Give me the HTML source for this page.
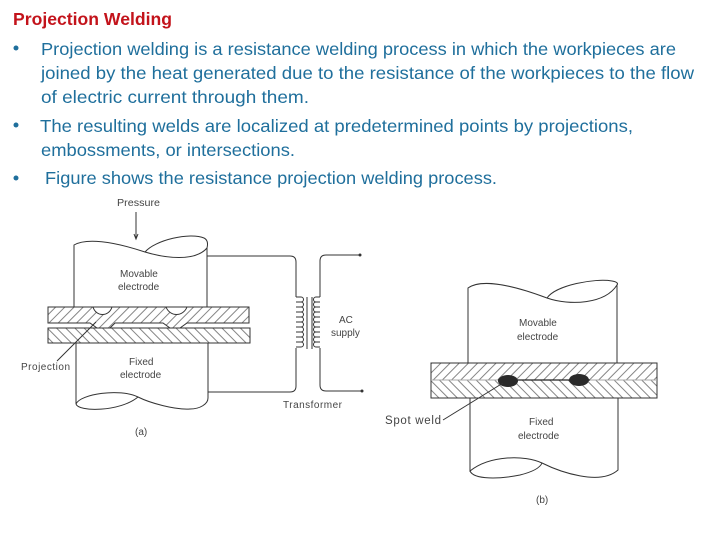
<!DOCTYPE html>
<html><head><meta charset="utf-8"><style>
html,body{margin:0;padding:0;background:#fff}
svg{display:block}
.t{font-family:"Liberation Sans",sans-serif;font-size:17.5px;fill:#1f6f9c}
.l{font-family:"Liberation Sans",sans-serif;font-size:10px;fill:#444}
.s{fill:none;stroke:#333;stroke-width:1}
.w{fill:#fff;stroke:#333;stroke-width:1}
</style></head><body>
<svg width="720" height="540" viewBox="0 0 720 540" xmlns="http://www.w3.org/2000/svg">
<defs>
<pattern id="h1" width="6.5" height="6.5" patternUnits="userSpaceOnUse" patternTransform="rotate(45)"><rect width="6.500" height="6.500" fill="#fff"/><line x1="3" y1="0" x2="3" y2="6.500" stroke="#666" stroke-width="0.800"/></pattern>
<pattern id="h2" width="6.5" height="6.5" patternUnits="userSpaceOnUse" patternTransform="rotate(-45)"><rect width="6.500" height="6.500" fill="#fff"/><line x1="3" y1="0" x2="3" y2="6.500" stroke="#666" stroke-width="0.800"/></pattern>
</defs>
<rect width="720" height="540" fill="#fff"/>

<text x="13" y="25" font-family="Liberation Sans,sans-serif" font-size="17.5" font-weight="700" fill="#c3131b" textLength="159" lengthAdjust="spacingAndGlyphs">Projection Welding</text>
<circle cx="16" cy="48" r="2.500" fill="#1f6f9c"/>
<circle cx="16" cy="125" r="2.500" fill="#1f6f9c"/>
<circle cx="16" cy="178" r="2.500" fill="#1f6f9c"/>
<text class="t" x="41" y="55" textLength="635" lengthAdjust="spacingAndGlyphs">Projection welding is a resistance welding process in which the workpieces are</text>
<text class="t" x="41" y="79" textLength="653" lengthAdjust="spacingAndGlyphs">joined by the heat generated due to the resistance of the workpieces to the flow</text>
<text class="t" x="41" y="103" textLength="268" lengthAdjust="spacingAndGlyphs">of electric current through them.</text>
<text class="t" x="40" y="132" textLength="593" lengthAdjust="spacingAndGlyphs">The resulting welds are localized at predetermined points by projections,</text>
<text class="t" x="41" y="156" textLength="254" lengthAdjust="spacingAndGlyphs">embossments, or intersections.</text>
<text class="t" x="45" y="184" textLength="452" lengthAdjust="spacingAndGlyphs">Figure shows the resistance projection welding process.</text>

<!-- Figure a -->
<g>
<text class="l" x="117" y="206" textLength="43" lengthAdjust="spacingAndGlyphs">Pressure</text>
<path class="s" d="M136 212V238M134 234L136 239L138 234"/>
<path class="w" d="M74 307V245C86 238 112 241 145 252C165 258 195 262 207 248V307Z"/>
<path class="s" d="M145 252C155 240 190 232 204 238C208 240 208 244 207 248"/>
<path class="w" d="M76 343V404C80 394 120 388 138 397C150 403 175 410 190 409C200 409 208 404 208 398V343Z"/>
<path class="s" d="M76 404C78 412 120 412 138 397"/>
<path class="s" d="M207 256H290Q296 256 296 262V297M208 392H290Q296 392 296 386V348"/>
<path class="s" d="M360 255H326Q320 255 320 261V297M362 391H326Q320 391 320 385V348"/>
<circle cx="360" cy="255" r="1.500" fill="#333"/><circle cx="362" cy="391" r="1.500" fill="#333"/>
<path class="s" d="M296 297h5a2.500 2.500 0 0 1 0 5a2.500 2.500 0 0 1 0 5a2.500 2.500 0 0 1 0 5a2.500 2.500 0 0 1 0 5a2.500 2.500 0 0 1 0 5a2.500 2.500 0 0 1 0 5a2.500 2.500 0 0 1 0 5a2.500 2.500 0 0 1 0 5a2.500 2.500 0 0 1 0 5a2.500 2.500 0 0 1 0 5h-5"/>
<path class="s" d="M296 302h5M296 307h5M296 312h5M296 317h5M296 322h5M296 327h5M296 332h5M296 337h5M296 342h5"/>
<path class="s" d="M320 297h-4a2.500 2.500 0 0 0 0 5a2.500 2.500 0 0 0 0 5a2.500 2.500 0 0 0 0 5a2.500 2.500 0 0 0 0 5a2.500 2.500 0 0 0 0 5a2.500 2.500 0 0 0 0 5a2.500 2.500 0 0 0 0 5a2.500 2.500 0 0 0 0 5a2.500 2.500 0 0 0 0 5a2.500 2.500 0 0 0 0 5h4"/>
<path class="s" d="M320 302h-4M320 307h-4M320 312h-4M320 317h-4M320 322h-4M320 327h-4M320 332h-4M320 337h-4M320 342h-4"/>
<path class="s" d="M307 297V349M312 297V349"/>
<rect x="74" y="323" width="134" height="5" fill="#fff"/>
<path d="M48 307H93C96 317 109 317 112 307H166C170 317 183 317 187 307H249V323H187L180 328H170L163 323H115L110 328H97L90 323H48Z" fill="url(#h1)" stroke="#333" stroke-width="1"/>
<rect x="48" y="328" width="202" height="15" fill="url(#h2)" stroke="#333" stroke-width="1"/>
<path class="s" d="M57 361L96 322"/>
<text class="l" x="120" y="277">Movable</text>
<text class="l" x="118" y="290">electrode</text>
<text class="l" x="129" y="365">Fixed</text>
<text class="l" x="120" y="378">electrode</text>
<text class="l" x="21" y="370" textLength="49" lengthAdjust="spacing">Projection</text>
<text class="l" x="339" y="323">AC</text>
<text class="l" x="331" y="336">supply</text>
<text class="l" x="283" y="408" textLength="59" lengthAdjust="spacing">Transformer</text>
<text class="l" x="135" y="435">(a)</text>
</g>

<!-- Figure b -->
<g>
<path class="w" d="M468 363V288C482 278 515 286 547 298C570 306 605 304 617 285V363Z"/>
<path class="s" d="M547 298C556 285 595 278 612 281C618 282 618 284 617 285"/>
<path class="w" d="M470 398V471C490 455 525 455 542 463C560 472 600 486 618 470V398Z"/>
<path class="s" d="M470 471C474 480 500 479 520 475C532 472 540 468 542 463"/>
<rect x="431" y="363" width="226" height="17" fill="url(#h1)"/>
<rect x="431" y="380" width="226" height="18" fill="url(#h2)"/>
<rect x="431" y="363" width="226" height="35" fill="none" stroke="#333" stroke-width="1"/>
<path d="M431 380H657" stroke="#aaa" stroke-width="1"/>
<path d="M498 380H590" stroke="#222" stroke-width="1.200"/>
<ellipse cx="508" cy="381" rx="10" ry="6" fill="#2a2a2a"/>
<ellipse cx="579" cy="380" rx="10" ry="6" fill="#2a2a2a"/>
<path class="s" d="M443 420L503 383"/>
<text class="l" x="519" y="326">Movable</text>
<text class="l" x="517" y="340">electrode</text>
<text class="l" x="529" y="425">Fixed</text>
<text class="l" x="518" y="439">electrode</text>
<text class="l" style="font-size:11.5px" x="385" y="424" textLength="56" lengthAdjust="spacing">Spot weld</text>
<text class="l" x="536" y="503">(b)</text>
</g>
</svg>
</body></html>
